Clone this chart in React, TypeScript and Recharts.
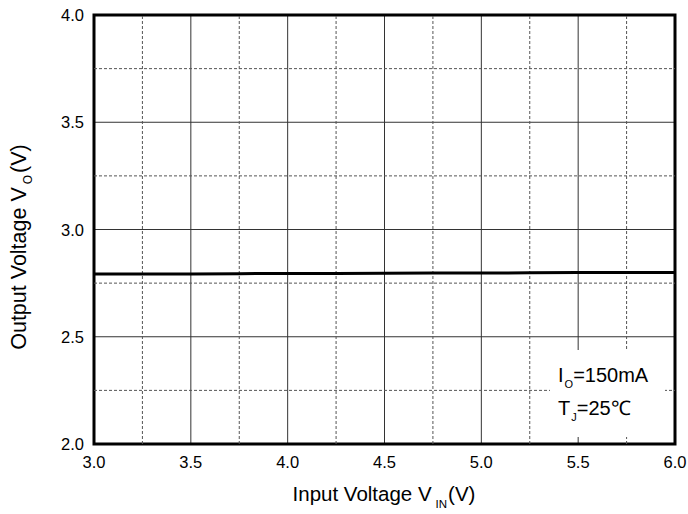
import { LineChart, Line, XAxis, YAxis, CartesianGrid, ReferenceLine, ReferenceArea } from "recharts";

const vin = [3.0, 3.25, 3.5, 3.75, 4.0, 4.25, 4.5, 4.75, 5.0, 5.25, 5.5, 5.75, 6.0];
const vout = [2.792, 2.793, 2.793, 2.794, 2.795, 2.795, 2.796, 2.797, 2.797, 2.798, 2.799, 2.799, 2.8];
const xTicks = [3.0, 3.5, 4.0, 4.5, 5.0, 5.5, 6.0];
const yTicks = [2.0, 2.5, 3.0, 3.5, 4.0];
const xMinor = [3.25, 3.75, 4.25, 4.75, 5.25, 5.75];
const yMinor = [2.25, 2.75, 3.25, 3.75];

const data = vin.map((v, i) => ({ vin: v, vout: vout[i] }));

const FONT = "'Liberation Sans', Arial, sans-serif";

function XTick(props: any) {
  const { x, y, payload } = props;
  return (
    <text x={x} y={y + 24} textAnchor="middle" fontFamily={FONT} fontSize={16.5} fill="#000">
      {Number(payload.value).toFixed(1)}
    </text>
  );
}

function YTick(props: any) {
  const { x, y, payload } = props;
  return (
    <text x={x - 1} y={y + 6} textAnchor="end" fontFamily={FONT} fontSize={16.5} fill="#000">
      {Number(payload.value).toFixed(1)}
    </text>
  );
}

function YTitle() {
  return (
    <text x={26} y={247} transform="rotate(-90 26 247)" textAnchor="middle" fontFamily={FONT} fontSize={21.5} fill="#000">
      Output Voltage V<tspan fontSize={12} dx={3} dy={6}>O</tspan><tspan dx={2} dy={-6}>(V)</tspan>
    </text>
  );
}

function XTitle() {
  return (
    <text x={384} y={501} textAnchor="middle" fontFamily={FONT} fontSize={20.5} fill="#000">
      Input Voltage V<tspan fontSize={11.5} dx={4} dy={7}>IN</tspan><tspan dx={1} dy={-7}>(V)</tspan>
    </text>
  );
}

export default function App() {
  return (
    <div style={{ position: "absolute", left: 0, top: 0, width: 688, height: 514, background: "#fff" }}>
      <LineChart width={688} height={514} data={data} margin={{ top: 15, right: 13, bottom: 0, left: 0 }}>
        <CartesianGrid stroke="#333" strokeWidth={1} />
        <XAxis
          dataKey="vin"
          type="number"
          domain={[3, 6]}
          ticks={xTicks}
          height={70}
          axisLine={false}
          tickLine={false}
          tickSize={0}
          tickMargin={0}
          tick={<XTick />}
          label={<XTitle />}
        />
        <YAxis
          type="number"
          domain={[2, 4]}
          ticks={yTicks}
          width={94}
          axisLine={false}
          tickLine={false}
          tickSize={0}
          tickMargin={9}
          tick={<YTick />}
          label={<YTitle />}
        />
        {xMinor.map((x) => (
          <ReferenceLine key={"x" + x} x={x} stroke="#555" strokeWidth={1} strokeDasharray="3 2" />
        ))}
        {yMinor.map((y) => (
          <ReferenceLine key={"y" + y} y={y} stroke="#555" strokeWidth={1} strokeDasharray="3 2" />
        ))}
        <Line dataKey="vout" stroke="#000" strokeWidth={3} dot={false} isAnimationActive={false} />
        <ReferenceArea x1={3} x2={6} y1={2} y2={4} fill="none" stroke="#000" strokeWidth={3} ifOverflow="visible" />
      </LineChart>
      <svg width={688} height={514} style={{ position: "absolute", left: 0, top: 0, pointerEvents: "none" }}>
        <rect x={550} y={350} width={115} height={87} fill="#fff" />
        <text x={558} y={382} fontFamily={FONT} fontSize={20} fill="#000">
          I<tspan fontSize={11} dx={1} dy={6}>O</tspan><tspan dy={-6}>=150mA</tspan>
        </text>
        <text x={558} y={415} fontFamily={FONT} fontSize={20} fill="#000">
          T<tspan fontSize={11} dx={1} dy={6}>J</tspan><tspan dy={-6}>=25℃</tspan>
        </text>
      </svg>
    </div>
  );
}
